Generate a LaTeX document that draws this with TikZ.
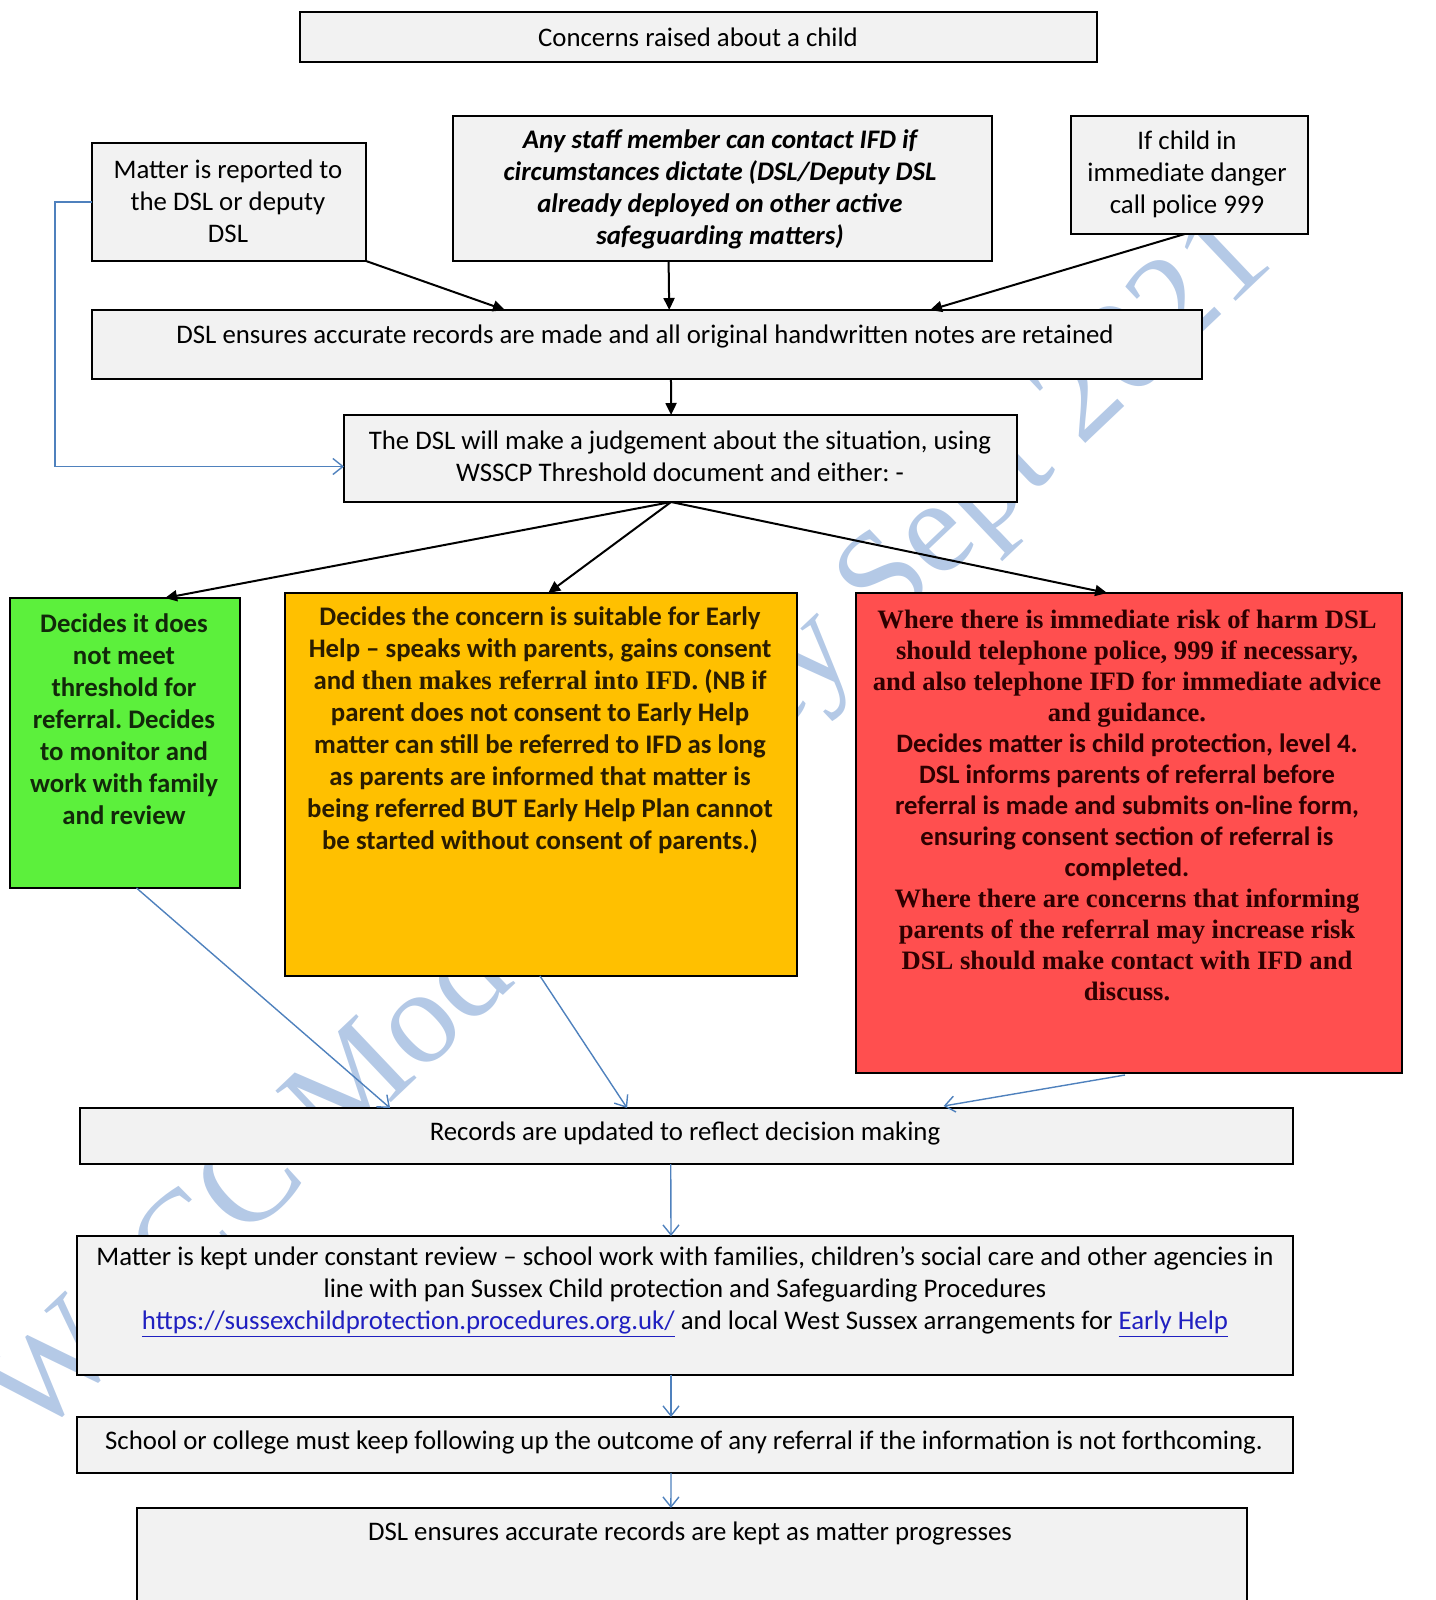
\documentclass[tikz,border=0pt]{standalone}
\usepackage{fontspec}
\setmainfont{Carlito}
\newfontfamily\serifb{Liberation Serif}
\usetikzlibrary{arrows.meta,calc}
\definecolor{boxgray}{HTML}{F2F2F2}
\definecolor{gbox}{HTML}{5CF03C}
\definecolor{obox}{HTML}{FFC000}
\definecolor{rbox}{HTML}{FF4F4F}
\definecolor{blueline}{HTML}{4F81BD}
\definecolor{wmark}{HTML}{B4C9E6}
\definecolor{linkblue}{HTML}{2020C0}
\definecolor{gtext}{HTML}{12280A}
\definecolor{otext}{HTML}{2A1C00}
\definecolor{rtext}{HTML}{2E0000}
\newcommand\mkbox[6][boxgray]{\node[bx,fill=#1,minimum width={(#5-#3)*0.5pt},minimum height={(#6-#4)*0.5pt}] (#2) at (#3,#4) {};}
\frenchspacing
\begin{document}
\begin{tikzpicture}[x=0.5pt,y=-0.5pt,
  bx/.style={draw=black,line width=1pt,anchor=north west,inner sep=0pt,outer sep=0pt},
  txt/.style={align=center,inner sep=0pt,font=\fontsize{13.4}{16}\selectfont},
  blk/.style={draw=black,line width=1pt,-{Triangle[length=6pt,width=5.5pt]}},
  blu/.style={draw=blueline,line width=0.7pt,-{Straight Barb[length=5pt,width=8pt]}}]
\useasboundingbox (0,0) rectangle (1435,1600);
% watermark
\node[text=wmark,rotate=43.5,font=\serifb\fontsize{67}{67}\selectfont,inner sep=0pt] (wm) at (633,829) {WSCC Model Policy Sept 2021};
% boxes
\mkbox{top}{300}{12}{1097}{62}
\mkbox{matter}{92}{143}{366}{261}
\mkbox{staff}{453}{116}{992}{261}
\mkbox{police}{1071}{116}{1308}{234}
\mkbox{rec1}{92}{310}{1202}{379}
\mkbox{judge}{344}{415}{1017}{502}
\mkbox[gbox]{green}{10}{598}{240}{888}
\mkbox[obox]{orange}{285}{593}{797}{976}
\mkbox[rbox]{red}{856}{593}{1402}{1073}
\mkbox{rec2}{80}{1108}{1293}{1164}
\mkbox{review}{77}{1236}{1293}{1375}
\mkbox{school}{77}{1417}{1293}{1473}
\mkbox{final}{137}{1508}{1247}{1612}
% texts
\node[txt] (ttop) at (698,37) {Concerns raised about a child};
\node[txt] (tmatter) at (228,201) {Matter is reported to\\the DSL or deputy\\DSL};
\node[txt,font=\fontsize{13.4}{16}\selectfont\bfseries\itshape] (tstaff) at (720,189) {Any staff member can contact IFD if\\circumstances dictate (DSL/Deputy DSL\\already deployed on other active\\safeguarding matters)};
\node[txt] (tpolice) at (1187,174) {If child in\\immediate danger\\call police 999};
\node[txt] (trec1) at (645,336) {DSL ensures accurate records are made and all original handwritten notes are retained};
\node[txt] (tjudge) at (680,456) {The DSL will make a judgement about the situation, using\\WSSCP Threshold document and either: -};
\node[txt,text=gtext,font=\fontsize{13.4}{16}\selectfont\bfseries] (tgreen) at (124,719) {Decides it does\\not meet\\threshold for\\referral. Decides\\to monitor and\\work with family\\and review};
\node[txt,text=otext,font=\fontsize{13.4}{16}\selectfont\bfseries] (torange) at (540,730) {Decides the concern is suitable for Early\\Help -- speaks with parents, gains consent\\and {\serifb\bfseries then makes referral into IFD.} (NB if\\parent does not consent to Early Help\\matter can still be referred to IFD as long\\as parents are informed that matter is\\being referred BUT Early Help Plan cannot\\be started without consent of parents.)};
\node[txt,text=rtext,font=\fontsize{13.3}{15.5}\selectfont\bfseries] (tred) at (1127,805) {{\serifb Where there is immediate risk of harm DSL}\\{\serifb should telephone police, 999 if necessary,}\\{\serifb and also telephone IFD for immediate advice}\\{\serifb and guidance.}\\Decides matter is child protection, level 4.\\DSL informs parents of referral before\\referral is made and submits on-line form,\\ensuring consent section of referral is\\completed.\\{\serifb Where there are concerns that informing}\\{\serifb parents of the referral may increase risk}\\{\serifb DSL should make contact with IFD and}\\{\serifb discuss.}};
\node[txt] (trec2) at (685,1133) {Records are updated to reflect decision making};
\node[txt] (treview) at (685,1292) {Matter is kept under constant review -- school work with families, children’s social care and other agencies in\\line with pan Sussex Child protection and Safeguarding Procedures\\\textcolor{linkblue}{\underline{https://sussexchildprotection.procedures.org.uk/}} and local West Sussex arrangements for \textcolor{linkblue}{\underline{Early Help}}};
\node[txt] (tschool) at (684,1442) {School or college must keep following up the outcome of any referral if the information is not forthcoming.};
\node[txt] (tfinal) at (690,1533) {DSL ensures accurate records are kept as matter progresses};
% connection points
\coordinate (r1a) at ($(rec1.north west)!0.372!(rec1.north east)$);
\coordinate (sb) at ($(staff.south west)!0.4!(staff.south east)$);
\coordinate (r1b) at ($(rec1.north west)!0.52!(rec1.north east)$);
\coordinate (pb) at ($(police.south west)!0.48!(police.south east)$);
\coordinate (r1c) at ($(rec1.north west)!0.755!(rec1.north east)$);
\coordinate (r1s) at ($(rec1.south west)!0.5216!(rec1.south east)$);
\coordinate (jt) at ($(judge.north west)!0.486!(judge.north east)$);
\coordinate (jb) at ($(judge.south west)!0.486!(judge.south east)$);
\coordinate (jl) at ($(judge.west)+(0,8)$);
\coordinate (gt) at ($(green.north west)!0.674!(green.north east)$);
\coordinate (ot) at ($(orange.north west)!0.514!(orange.north east)$);
\coordinate (rt) at ($(red.north west)!0.46!(red.north east)$);
\coordinate (gb) at ($(green.south west)!0.55!(green.south east)$);
\coordinate (ob) at ($(orange.south west)!0.498!(orange.south east)$);
\coordinate (rb) at ($(red.south west)!0.4927!(red.south east)+(0,2)$);
\coordinate (r2a) at ($(rec2.north west)!0.2556!(rec2.north east)$);
\coordinate (r2b) at ($(rec2.north west)!0.451!(rec2.north east)$);
\coordinate (r2c) at ($(rec2.north west)!0.712!(rec2.north east)+(0,-2)$);
\coordinate (r2s) at ($(rec2.south west)!0.487!(rec2.south east)$);
\coordinate (rvt) at ($(review.north west)!0.4885!(review.north east)$);
\coordinate (rvs) at ($(review.south west)!0.4885!(review.south east)$);
\coordinate (sct) at ($(school.north west)!0.4885!(school.north east)$);
\coordinate (scs) at ($(school.south west)!0.4885!(school.south east)$);
\coordinate (fnt) at ($(final.north west)!0.481!(final.north east)$);
% black connectors
\draw[blk] (matter.south east) -- (r1a);
\draw[blk] (sb) -- (r1b);
\draw[blk] (pb) -- (r1c);
\draw[blk] (r1s) -- (jt);
\draw[blk] (jb) -- (gt);
\draw[blk] (jb) -- (ot);
\draw[blk] (jb) -- (rt);
% blue connectors
\draw[blu] (matter.west) -- ++(-37,0) |- (jl);
\draw[blu] (gb) -- (r2a);
\draw[blu] (ob) -- (r2b);
\draw[blu] (rb) -- (r2c);
\draw[blu] (r2s) -- (rvt);
\draw[blu] (rvs) -- (sct);
\draw[blu] (scs) -- (fnt);
\end{tikzpicture}
\end{document}
